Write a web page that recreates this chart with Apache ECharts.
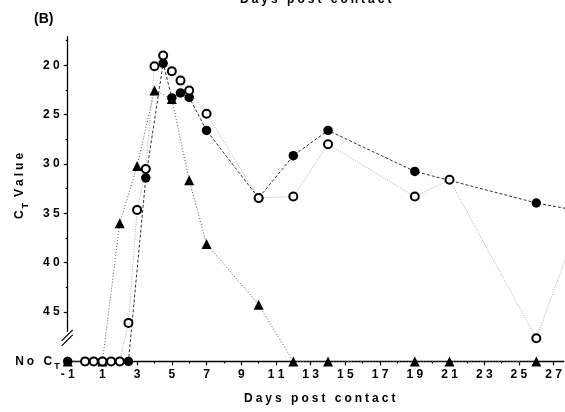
<!DOCTYPE html>
<html><head><meta charset="utf-8">
<script src="https://cdn.jsdelivr.net/npm/echarts@6/dist/echarts.min.js"></script>
<style>html,body{margin:0;padding:0;background:#fff}#c{width:565px;height:412px}</style>
</head><body><div id="c"></div>
<script>
const NO_CT = 50;
const filledDays = [-1, 1, 2.5, 3.5, 4.5, 5, 5.5, 6, 7, 10, 12, 14, 19, 26, 28];
const filledCt = [NO_CT, NO_CT, NO_CT, 31.4, 19.8, 23.3, 22.8, 23.25, 26.6, 33.45, 29.15, 26.6, 30.75, 33.95, 34.6];
const openDays = [0, 0.5, 1, 1.5, 2, 2.5, 3, 3.5, 4, 4.5, 5, 5.5, 6, 7, 10, 12, 14, 19, 21, 26, 28];
const openCt = [NO_CT, NO_CT, NO_CT, NO_CT, NO_CT, 46.1, 34.65, 30.5, 20.1, 19.0, 20.6, 21.55, 22.55, 24.9, 33.45, 33.3, 28.0, 33.3, 31.6, 47.65, 38.1];
const triDays = [-1, 1, 2, 3, 4, 5, 6, 7, 10, 12, 14, 19, 21, 26];
const triCt = [NO_CT, NO_CT, 36.0, 30.2, 22.55, 23.4, 31.65, 38.1, 44.25, NO_CT, NO_CT, NO_CT, NO_CT, NO_CT];
const xTickLabels = [-1, 1, 3, 5, 7, 9, 11, 13, 15, 17, 19, 21, 23, 25, 27];
const xMinorTicks = [0, 2, 4, 6, 8, 10, 12, 14, 16, 18, 20, 22, 24, 26];
const yTickValues = [20, 25, 30, 35, 40, 45];
const yMinorTicks = [17.5, 22.5, 27.5, 32.5, 37.5, 42.5];
const yLabelValues = [20, 25, 30, 35, 40, 45, NO_CT];
const xTitle = 'Days post contact';
const yTitleMain = 'C';
const yTitleSub = 'T';
const yTitleRest = 'Value';
const noCtMain = 'No C';
const panelLabel = '(B)';

const FF = '"Liberation Sans", Arial, sans-serif';
const NUM_GAP = ' ';
const TXT_GAP = '\u2005';
const spN = s => String(s).split('').join(NUM_GAP);
const spT = s => String(s).split('').join(TXT_GAP);
const pair = (xs, ys) => xs.map((x, i) => [x, ys[i]]);

const chart = echarts.init(document.getElementById('c'), null, {renderer: 'canvas'});
const X_MIN = -1, X_MAX = 27.58, Y_MIN = 17.1, Y_MAX = NO_CT;
const baseText = {color: '#000', fontWeight: 'bold', fontSize: 12, fontFamily: FF};

chart.setOption({
  animation: false,
  backgroundColor: '#fff',
  grid: {left: 67.7, right: 0, top: 36.7, bottom: 50.6},
  xAxis: [{
    type: 'value', min: X_MIN, max: X_MAX, position: 'bottom',
    axisLine: {onZero: false, lineStyle: {color: '#000', width: 1.3}},
    splitLine: {show: false},
    axisTick: {customValues: xTickLabels, length: 4, lineStyle: {color: '#000', width: 1.2}},
    axisLabel: Object.assign({customValues: xTickLabels, margin: 7, formatter: v => spN(v)}, baseText)
  }, {
    type: 'value', min: X_MIN, max: X_MAX, position: 'bottom',
    axisLine: {show: false, onZero: false}, splitLine: {show: false},
    axisTick: {customValues: xMinorTicks, length: 2, lineStyle: {color: '#000', width: 1.2}},
    axisLabel: {show: false}
  }],
  yAxis: [{
    type: 'value', inverse: true, min: Y_MIN, max: Y_MAX, position: 'left',
    axisLine: {show: true, onZero: false, lineStyle: {color: '#000', width: 1.3}},
    splitLine: {show: false},
    axisTick: {show: true, customValues: yTickValues, length: 4, lineStyle: {color: '#000', width: 1.2}},
    axisLabel: Object.assign({
      customValues: yLabelValues, margin: 8,
      formatter: v => v === NO_CT ? '{n|' + spT(noCtMain) + '}{s|' + yTitleSub + '}' : spN(v),
      rich: {
        n: Object.assign({lineHeight: 20}, baseText),
        s: {color: '#000', fontWeight: 'bold', fontSize: 9, fontFamily: FF, lineHeight: 20, verticalAlign: 'bottom', padding: [0, 0, 0, 2]}
      }
    }, baseText)
  }, {
    type: 'value', inverse: true, min: Y_MIN, max: Y_MAX, position: 'left',
    axisLine: {show: false, onZero: false}, splitLine: {show: false},
    axisTick: {show: true, customValues: yMinorTicks, length: 2, lineStyle: {color: '#000', width: 1.2}},
    axisLabel: {show: false}
  }],
  series: [{
    name: 'triangles', type: 'line', xAxisIndex: 0, yAxisIndex: 0,
    data: pair(triDays, triCt), symbol: 'triangle', symbolSize: 10,
    itemStyle: {color: '#000'},
    lineStyle: {color: '#555', width: 1, type: [1, 2]}, clip: true
  }, {
    name: 'filled', type: 'line', xAxisIndex: 0, yAxisIndex: 0,
    data: pair(filledDays, filledCt), symbol: 'circle', symbolSize: 9.5,
    itemStyle: {color: '#000'},
    lineStyle: {color: '#333', width: 1, type: [3, 2]}, clip: true
  }, {
    name: 'open', type: 'line', xAxisIndex: 0, yAxisIndex: 0,
    data: pair(openDays, openCt), symbol: 'circle', symbolSize: 8,
    itemStyle: {color: '#fff', borderColor: '#000', borderWidth: 2},
    lineStyle: {color: '#aaa', width: 1, type: [1, 1.5]}, clip: true
  }]
});

const px = (x, y) => chart.convertToPixel({xAxisIndex: 0, yAxisIndex: 0}, [x, y]);
const topBreak = px(X_MIN, 46.9);
const botBreak = px(X_MIN, 49.4);
const ax = topBreak[0];
const midY = topBreak[1] + 7;
const xCenter = (px(X_MIN, Y_MIN)[0] + px(X_MAX, Y_MIN)[0]) / 2;
const titleText = spT(xTitle);

chart.setOption({
  graphic: [
    {type: 'rect', z: 100, shape: {x: ax - 2, y: topBreak[1] + 1, width: 4, height: botBreak[1] - topBreak[1]}, style: {fill: '#fff'}},
    {type: 'line', z: 101, shape: {x1: ax - 6, y1: midY + 3, x2: ax + 5, y2: midY - 8}, style: {stroke: '#000', lineWidth: 1.2}},
    {type: 'line', z: 101, shape: {x1: ax - 6, y1: midY + 8, x2: ax + 5, y2: midY - 3}, style: {stroke: '#000', lineWidth: 1.2}},
    {type: 'text', z: 100, x: xCenter + 4, y: 405, style: {text: titleText, align: 'center', verticalAlign: 'bottom', fill: '#000', font: 'bold 12px ' + FF}},
    {type: 'text', z: 100, x: xCenter, y: 6, style: {text: titleText, align: 'center', verticalAlign: 'bottom', fill: '#000', font: 'bold 12px ' + FF}},
    {type: 'text', z: 100, x: 34, y: 19, style: {text: panelLabel, align: 'left', verticalAlign: 'middle', fill: '#000', font: 'bold 14px ' + FF}},
    {type: 'text', z: 100, x: 20, y: 186, rotation: Math.PI / 2,
      style: {text: '{c|' + yTitleMain + '}{s|' + yTitleSub + '}{v|' + TXT_GAP + TXT_GAP + spT(yTitleRest) + '}', align: 'center', verticalAlign: 'middle',
        rich: {
          c: {fill: '#000', fontWeight: 'bold', fontSize: 12, fontFamily: FF, lineHeight: 20},
          v: {fill: '#000', fontWeight: 'bold', fontSize: 12, fontFamily: FF, lineHeight: 20},
          s: {fill: '#000', fontWeight: 'bold', fontSize: 9, fontFamily: FF, lineHeight: 20, verticalAlign: 'bottom', padding: [0, 0, 0, 2]}
        }}}
  ]
});
</script>
</body></html>
